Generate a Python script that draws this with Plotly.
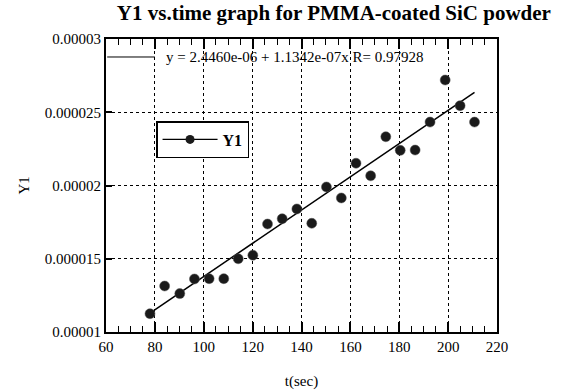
import plotly.graph_objects as go

# Data
t_sec = [78.0, 84.0, 90.2, 96.2, 102.2, 108.2, 114.1, 120.1, 126.1, 132.1, 138.1, 144.2,
         150.2, 156.3, 162.3, 168.3, 174.5, 180.4, 186.5, 192.6, 198.8, 204.9, 210.8]
y1 = [1.125e-5, 1.314e-5, 1.262e-5, 1.362e-5, 1.364e-5, 1.364e-5, 1.500e-5, 1.524e-5,
      1.737e-5, 1.773e-5, 1.840e-5, 1.742e-5, 1.990e-5, 1.915e-5, 2.152e-5, 2.066e-5,
      2.333e-5, 2.240e-5, 2.242e-5, 2.433e-5, 2.720e-5, 2.545e-5, 2.433e-5]

# Regression line from the chart's own label
fit_intercept = 2.4460e-06
fit_slope = 1.1342e-07
fit_label = "y = 2.4460e-06 + 1.1342e-07x R= 0.97928"

x_ticks = [60, 80, 100, 120, 140, 160, 180, 200, 220]
y_tickvals = [0.00001, 0.000015, 0.00002, 0.000025, 0.00003]
y_ticktext = ["0.00001", "0.000015", "0.00002", "0.000025", "0.00003"]

fit_x = [min(t_sec), max(t_sec)]
fit_y = [fit_intercept + fit_slope * v for v in fit_x]

SERIF = "Liberation Serif, Times New Roman, serif"

fig = go.Figure()
fig.add_trace(go.Scatter(
    x=fit_x, y=fit_y, mode="lines", name=fit_label,
    line=dict(color="black", width=1.5), showlegend=False,
))
fig.add_trace(go.Scatter(
    x=t_sec, y=y1, mode="markers", name="<b>Y1</b>",
    marker=dict(color="#1a1a1a", size=10, line=dict(color="#555", width=0.5)),
    showlegend=False,
))
# legend entry for Y1 (line + marker symbol as in the original)
fig.add_trace(go.Scatter(
    x=[None], y=[None], mode="lines+markers", name="<b>Y1</b>",
    marker=dict(color="#1a1a1a", size=9),
    line=dict(color="black", width=1.2),
))

# fit-line key at top-left
fig.add_shape(type="line", xref="paper", yref="paper",
              x0=0.003, x1=0.125, y0=0.9386, y1=0.9386,
              line=dict(color="black", width=1))
fig.add_annotation(xref="paper", yref="paper", x=0.148, y=0.9386,
                   xanchor="left", yanchor="middle", showarrow=False,
                   text=fit_label, font=dict(family=SERIF, size=15, color="black"))
# y-axis title
fig.add_annotation(xref="paper", yref="paper", x=-0.212, y=0.5,
                   xanchor="center", yanchor="middle", showarrow=False, textangle=-90,
                   text="Y1", font=dict(family=SERIF, size=15, color="black"))

axis_common = dict(
    showline=True, linecolor="black", linewidth=1.8,
    showgrid=True, gridcolor="black", gridwidth=1, griddash="dot",
    zeroline=False, tickcolor="black",
    tickfont=dict(family=SERIF, size=15, color="black"),
)

fig.update_layout(
    width=564, height=390,
    margin=dict(l=106, r=67, t=39, b=58),
    paper_bgcolor="white", plot_bgcolor="white",
    title=dict(text="<b>Y1 vs.time graph for PMMA-coated SiC powder</b>",
               x=0.592, xanchor="center", y=0.968, yanchor="middle",
               font=dict(family=SERIF, size=21, color="black")),
    xaxis=dict(range=[60, 220], tickmode="linear", tick0=x_ticks[0],
               dtick=x_ticks[1] - x_ticks[0], ticks="inside", ticklen=10, tickwidth=1.5,
               minor=dict(dtick=5, ticks="inside", ticklen=6, tickcolor="black",
                          tickwidth=1.3, showgrid=False),
               mirror="ticks", automargin=False,
               title=dict(text="t(sec)", font=dict(family=SERIF, size=15, color="black"), standoff=22),
               **axis_common),
    yaxis=dict(range=[0.00001, 0.00003], tickvals=y_tickvals, ticktext=y_ticktext,
               ticks="inside", ticklen=6, tickwidth=1.5, mirror=True, automargin=False,
               **axis_common),
    legend=dict(x=0.128, y=0.72, xanchor="left", yanchor="top",
                bgcolor="white", bordercolor="black", borderwidth=1.5,
                font=dict(family=SERIF, size=16, color="black"),
                itemwidth=55),
)

fig.write_html("out.html", config={"displayModeBar": False},
               post_script="document.body.style.margin='0';")
